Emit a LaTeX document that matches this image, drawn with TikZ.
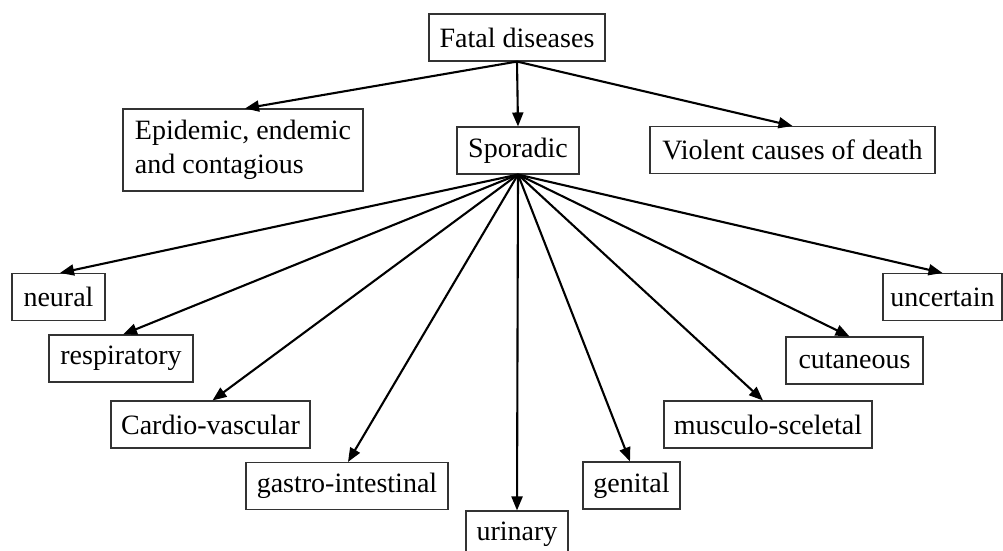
\documentclass[tikz,border=0pt]{standalone}
\usepackage{fontspec}
\setmainfont{Liberation Serif}
\usetikzlibrary{arrows.meta}
\begin{document}
\begin{tikzpicture}[x=1pt,y=-1pt,
  box/.style={draw=black!80,line width=1.1pt,inner sep=0pt,minimum height=47pt,
    font=\fontsize{28}{34}\selectfont,text=black},
  arr/.style={draw=black,line width=2.1pt,-{Triangle[length=14pt,width=11pt]}}]
\clip (0,0) rectangle (1003,550);
\fill[white] (0,0) rectangle (1003,550);
\node[box,minimum width=176pt] (fat) at (517,37.5) {Fatal diseases};
\node[box,minimum width=240pt,minimum height=82pt,align=left] (epi) at (243,150) {Epidemic, endemic\\and contagious};
\node[box,minimum width=122pt] (sp) at (518,150.5) {Sporadic};
\node[box,minimum width=285pt] (vio) at (792.5,150) {Violent causes of death};
\node[box,minimum width=93pt] (neu) at (58.5,297) {neural};
\node[box,minimum width=144pt] (res) at (121,358.5) {respiratory};
\node[box,minimum width=199pt] (car) at (210.5,424.5) {Cardio-vascular};
\node[box,minimum width=202pt] (gas) at (347,486) {gastro-intestinal};
\node[box,minimum width=102pt] (uri) at (517,534.5) {urinary};
\node[box,minimum width=97pt] (gen) at (631.5,485.5) {genital};
\node[box,minimum width=208pt] (mus) at (768,424.5) {musculo-sceletal};
\node[box,minimum width=137pt] (cut) at (854.5,360.5) {cutaneous};
\node[box,minimum width=119pt] (unc) at (942.5,297) {uncertain};
\draw[arr] (fat.south) -- ([xshift=2pt]epi.north);
\draw[arr] (fat.south) -- (sp.north);
\draw[arr] (fat.south) -- (vio.north);
\draw[arr] (sp.south) -- ([xshift=1.5pt]neu.north);
\draw[arr] (sp.south) -- ([xshift=2pt]res.north);
\draw[arr] (sp.south) -- ([xshift=2pt]car.north);
\draw[arr] (sp.south) -- ([xshift=1pt]gas.north);
\draw[arr] (sp.south) -- (uri.north);
\draw[arr] (sp.south) -- ([xshift=-1.5pt]gen.north);
\draw[arr] (sp.south) -- ([xshift=-5pt]mus.north);
\draw[arr] (sp.south) -- ([xshift=-5pt]cut.north);
\draw[arr] (sp.south) -- (unc.north);
\end{tikzpicture}
\end{document}
